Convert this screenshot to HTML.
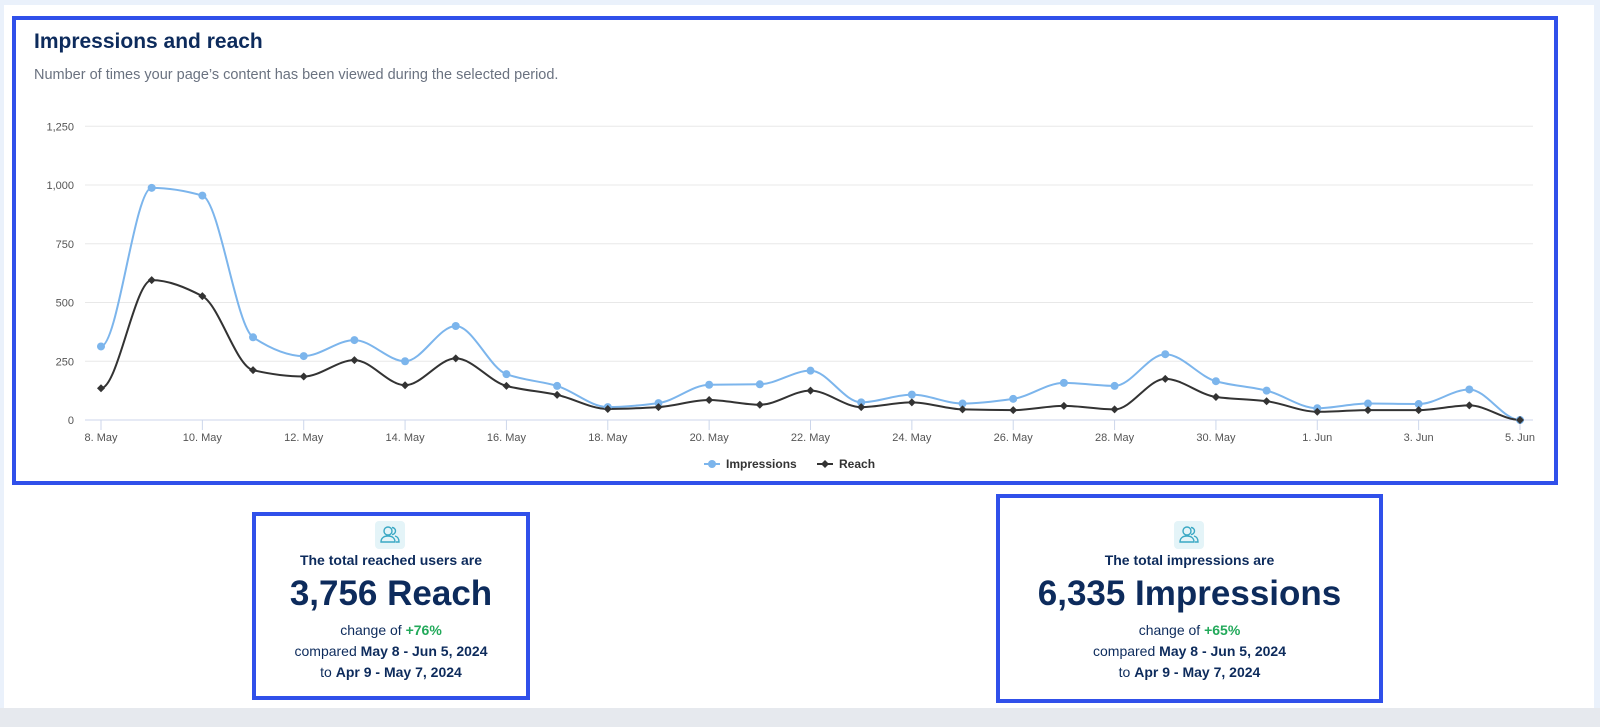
<!DOCTYPE html>
<html><head><meta charset="utf-8"><style>
*{margin:0;padding:0;box-sizing:border-box}
body{width:1600px;height:727px;background:#eaf1fb;font-family:"Liberation Sans",sans-serif;position:relative;overflow:hidden}
.panel{position:absolute;left:4px;top:5px;width:1590px;height:703px;background:#fff}
.bot{position:absolute;left:0;top:708px;width:1600px;height:19px;background:#e6e9ee}
.box{position:absolute;border:4px solid #3050ea}
h1{position:absolute;left:34px;top:30px;font-size:21px;font-weight:600;color:#0d2b5c}
.sub{position:absolute;left:34px;top:67px;font-size:14.5px;color:#6a7280}
.card{position:absolute;text-align:center;color:#0d2b5c}
.card .t{font-size:14px;font-weight:bold}
.card .big{font-size:35px;font-weight:bold;margin-top:6px}
.card .l{font-size:14px;line-height:21px}
.g{color:#22a95a;font-weight:bold}
.icon{position:absolute;width:30px;height:28px;background:#e4f4f8;border-radius:4px}
</style></head><body>
<div class="panel"></div><div class="bot"></div>
<div class="box" style="left:12px;top:16px;width:1546px;height:469px"></div>
<h1>Impressions and reach</h1>
<div class="sub">Number of times your page’s content has been viewed during the selected period.</div>
<svg id="c" width="1600" height="727" style="position:absolute;left:0;top:0"></svg>
<div class="box" style="left:252px;top:512px;width:278px;height:188px"></div>
<div class="box" style="left:996px;top:494px;width:387px;height:209px"></div>
<div class="icon" style="left:375px;top:521px"><svg width="30" height="28"><g fill="none" stroke="#3aa8c4" stroke-width="1.4"><circle cx="13" cy="10" r="4"/><path d="M6 21c0-4 3-6 7-6s7 2 7 6z"/><path d="M17 6.5a3.5 3.5 0 0 1 0 7M20 15c2 .5 4 2 4 6h-3"/></g></svg></div>
<div class="icon" style="left:1174px;top:521px"><svg width="30" height="28"><g fill="none" stroke="#3aa8c4" stroke-width="1.4"><circle cx="13" cy="10" r="4"/><path d="M6 21c0-4 3-6 7-6s7 2 7 6z"/><path d="M17 6.5a3.5 3.5 0 0 1 0 7M20 15c2 .5 4 2 4 6h-3"/></g></svg></div>
<div class="card" style="left:256px;top:552px;width:270px">
<div class="t">The total reached users are</div>
<div class="big">3,756 Reach</div>
<div class="l" style="margin-top:6px">change of <span class="g">+76%</span></div>
<div class="l">compared <b>May 8 - Jun 5, 2024</b></div>
<div class="l">to <b>Apr 9 - May 7, 2024</b></div>
</div>
<div class="card" style="left:1000px;top:552px;width:379px">
<div class="t">The total impressions are</div>
<div class="big">6,335 Impressions</div>
<div class="l" style="margin-top:6px">change of <span class="g">+65%</span></div>
<div class="l">compared <b>May 8 - Jun 5, 2024</b></div>
<div class="l">to <b>Apr 9 - May 7, 2024</b></div>
</div>
<script>
const imp=[313,988,955,352,272,340,250,400,195,145,55,72,150,152,210,75,108,70,90,158,145,280,165,125,50,70,68,130,0];
const rea=[135,595,527,212,185,255,148,262,145,107,47,55,85,65,125,55,75,45,42,60,45,175,98,80,35,42,42,62,0];
const X=i=>101+i*(1419/28), Y=v=>420-v*0.235;
let s='';
for(let k=0;k<=5;k++){const y=420-k*58.75;s+=`<line x1="85" x2="1533" y1="${y}" y2="${y}" stroke="${k?'#e8e8e8':'#ccd6eb'}"/>`;
s+=`<text x="74" y="${y+4}" text-anchor="end" font-size="11" fill="#555">${(k*250).toLocaleString('en-US')}</text>`;}
const lab=['8. May','10. May','12. May','14. May','16. May','18. May','20. May','22. May','24. May','26. May','28. May','30. May','1. Jun','3. Jun','5. Jun'];
lab.forEach((t,j)=>{const x=X(j*2);s+=`<line x1="${x}" x2="${x}" y1="420" y2="430" stroke="#ccd6eb"/><text x="${x}" y="441" text-anchor="middle" font-size="11" fill="#555">${t}</text>`});
function path(d){const p=d.map((v,i)=>[X(i),Y(v)]);const n=p.length;
const sl=p.map((b,i)=>{if(i==0||i==n-1)return 0;const a=p[i-1],c=p[i+1];
const d1=(b[1]-a[1])/(b[0]-a[0]),d2=(c[1]-b[1])/(c[0]-b[0]);
if(d1*d2<=0)return 0;return 2/(1/d1+1/d2);});
let r=`M${p[0]}`;
for(let i=0;i<n-1;i++){const b=p[i],c=p[i+1],dx=(c[0]-b[0])/3;
r+=`C${b[0]+dx},${b[1]+sl[i]*dx} ${c[0]-dx},${c[1]-sl[i+1]*dx} ${c[0]},${c[1]}`;}return r;}
s+=`<path d="${path(imp)}" fill="none" stroke="#7cb5ec" stroke-width="2"/>`;
s+=`<path d="${path(rea)}" fill="none" stroke="#333" stroke-width="2"/>`;
imp.forEach((v,i)=>s+=`<circle cx="${X(i)}" cy="${Y(v)}" r="4" fill="#7cb5ec"/>`);
rea.forEach((v,i)=>{const x=X(i),y=Y(v);s+=`<path d="M${x} ${y-4}L${x+4} ${y}L${x} ${y+4}L${x-4} ${y}Z" fill="#333"/>`});
s+=`<line x1="704" x2="720" y1="464" y2="464" stroke="#7cb5ec" stroke-width="2"/><circle cx="712" cy="464" r="4" fill="#7cb5ec"/><text x="726" y="468" font-size="12" font-weight="bold" fill="#333">Impressions</text>`;
s+=`<line x1="817" x2="833" y1="464" y2="464" stroke="#333" stroke-width="2"/><path d="M825 460L829 464L825 468L821 464Z" fill="#333"/><text x="839" y="468" font-size="12" font-weight="bold" fill="#333">Reach</text>`;
document.getElementById('c').innerHTML=s;
</script>
</body></html>
